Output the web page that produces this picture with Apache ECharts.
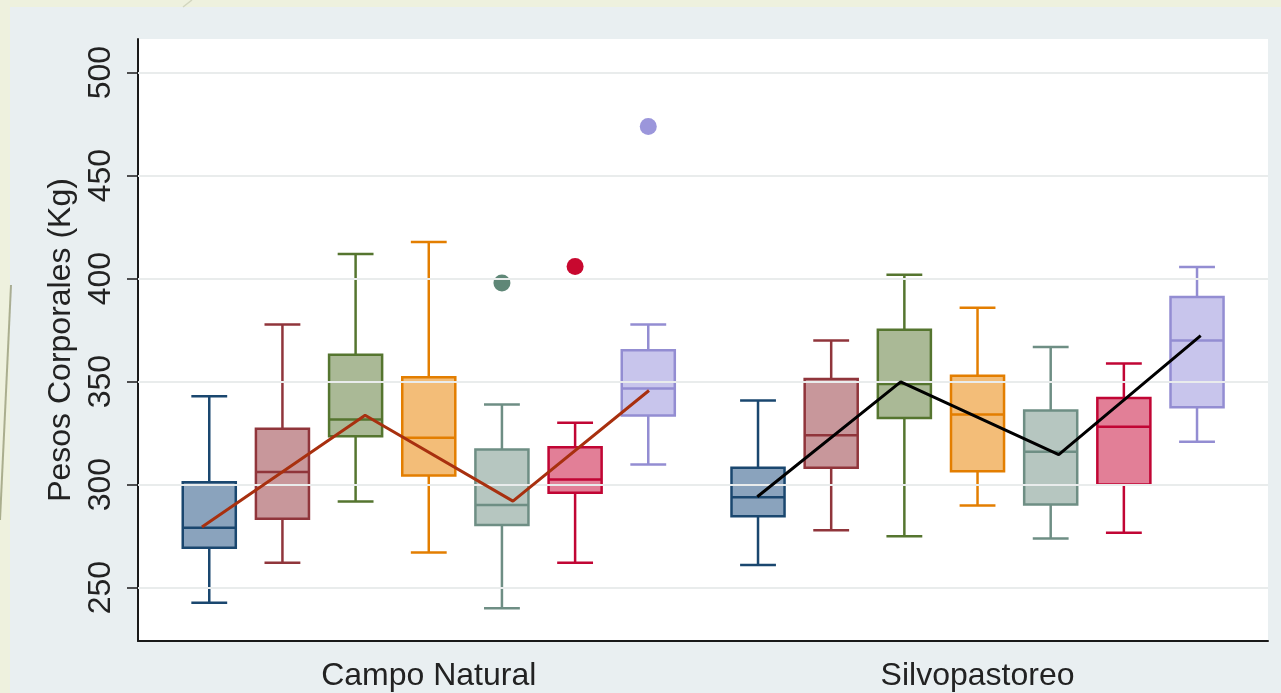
<!DOCTYPE html>
<html>
<head>
<meta charset="utf-8">
<script src="https://cdn.jsdelivr.net/npm/echarts@6/dist/echarts.min.js"></script>
<style>html,body{margin:0;padding:0;background:#eef1de;}#c{width:1281px;height:693px;}</style>
</head>
<body>
<div id="c"></div>
<script>
// ---- data ----
const groups = ['Campo Natural', 'Silvopastoreo'];
const yTicks = [250, 300, 350, 400, 450, 500];

// Campo Natural: 7 boxes
const cnMin = [242.7, 262.1, 291.8, 267.0, 240.0, 262.1, 309.8];
const cnQ1  = [269.4, 283.4, 323.5, 304.4, 280.4, 296.1, 333.5];
const cnMed = [279.1, 306.1, 331.6, 322.7, 290.1, 302.5, 346.6];
const cnQ3  = [301.2, 327.1, 363.1, 352.1, 317.1, 318.2, 365.2];
const cnMax = [342.9, 377.7, 411.9, 417.8, 338.9, 330.0, 377.7];
const cnOutBox = [4, 5, 6];
const cnOutVal = [397.9, 405.9, 473.8];

// Silvopastoreo: 7 boxes
const spMin = [261.0, 277.9, 275.0, 289.9, 273.9, 276.7, 320.8];
const spQ1  = [284.7, 308.2, 332.4, 306.5, 290.4, 300.1, 337.6];
const spMed = [293.9, 324.0, 348.9, 334.0, 315.9, 328.1, 369.9];
const spQ3  = [308.2, 351.3, 375.2, 352.9, 336.0, 342.1, 391.1];
const spMax = [340.8, 369.9, 401.9, 385.8, 366.8, 358.8, 405.6];
const spOutBox = [];
const spOutVal = [];

// trend lines (position in box units within group, value)
const cnLinePos = [-0.1, 2.13, 4.15, 6.01];
const cnLineVal = [279.4, 333.7, 292.0, 345.7];
const spLinePos = [-0.01, 1.95, 4.11, 6.05];
const spLineVal = [294.1, 349.9, 314.6, 372.3];

// ---- styles / layout ----
const GROUP_STEP = 7.5;
const strokeCols = ['#1a476f', '#90353b', '#55752f', '#e37e00', '#6e8e84', '#c10534', '#938dd2'];
const fillCols   = ['#8aa3bd', '#c8979b', '#aab996', '#f3bd78', '#b6c6c0', '#e27f97', '#c8c5ec'];
const outCols    = ['#1a476f', '#90353b', '#55752f', '#e37e00', '#5f8777', '#c8082f', '#9b96db'];
const FONT = 'Liberation Sans, Arial, Helvetica, sans-serif';

const stats = [
  [cnMin, cnQ1, cnMed, cnQ3, cnMax],
  [spMin, spQ1, spMed, spQ3, spMax]
];
const boxData = [];
stats.forEach((s, g) => {
  s[0].forEach((_, k) => {
    boxData.push([g * GROUP_STEP + k, s[0][k], s[1][k], s[2][k], s[3][k], s[4][k], k]);
  });
});
const outData = [];
[[cnOutBox, cnOutVal], [spOutBox, spOutVal]].forEach((o, g) => {
  o[0].forEach((k, i) => {
    outData.push({ value: [g * GROUP_STEP + k, o[1][i]], itemStyle: { color: outCols[k], opacity: 1 } });
  });
});
const cnLine = cnLinePos.map((p, i) => [p, cnLineVal[i]]);
const spLine = spLinePos.map((p, i) => [GROUP_STEP + p, spLineVal[i]]);

const chart = echarts.init(document.getElementById('c'), null, { renderer: 'canvas' });

function renderBox(params, api) {
  const x = api.value(0);
  const k = api.value(6);
  const unit = api.size([1, 0])[0];
  const bw = unit * 0.725;
  const cw = unit * 0.49;
  const cx = api.coord([x, api.value(3)])[0];
  const yMin = api.coord([x, api.value(1)])[1];
  const yQ1 = api.coord([x, api.value(2)])[1];
  const yMed = api.coord([x, api.value(3)])[1];
  const yQ3 = api.coord([x, api.value(4)])[1];
  const yMax = api.coord([x, api.value(5)])[1];
  const st = { stroke: strokeCols[k], lineWidth: 2.5 };
  return {
    type: 'group',
    children: [
      { type: 'line', shape: { x1: cx, y1: yMax, x2: cx, y2: yQ3 }, style: st },
      { type: 'line', shape: { x1: cx, y1: yQ1, x2: cx, y2: yMin }, style: st },
      { type: 'line', shape: { x1: cx - cw / 2, y1: yMax, x2: cx + cw / 2, y2: yMax }, style: st },
      { type: 'line', shape: { x1: cx - cw / 2, y1: yMin, x2: cx + cw / 2, y2: yMin }, style: st },
      { type: 'rect', shape: { x: cx - bw / 2, y: yQ3, width: bw, height: yQ1 - yQ3 },
        style: { fill: fillCols[k], stroke: strokeCols[k], lineWidth: 2.5 } },
      { type: 'line', shape: { x1: cx - bw / 2, y1: yMed, x2: cx + bw / 2, y2: yMed }, style: st }
    ]
  };
}

chart.setOption({
  backgroundColor: '#eef1de',
  animation: false,
  graphic: [
    { type: 'rect', z: -100, shape: { x: 10, y: 7, width: 1271, height: 686 }, style: { fill: '#e9eff1' } },
    { type: 'line', z: -100, shape: { x1: 192, y1: 0, x2: 183, y2: 7 }, style: { stroke: '#d2d6bf', lineWidth: 1.5 } },
    { type: 'line', z: -100, shape: { x1: 11, y1: 285, x2: 0, y2: 520 }, style: { stroke: '#8d916c', lineWidth: 2, opacity: 0.7 } }
  ],
  grid: { left: 138, right: 13, top: 39, bottom: 52, show: true, backgroundColor: '#ffffff', borderWidth: 0 },
  xAxis: {
    type: 'value',
    min: -0.974, max: 14.47,
    axisLine: { show: true, onZero: false, lineStyle: { color: '#1a1a1a', width: 2 } },
    axisTick: { show: false },
    splitLine: { show: false },
    axisLabel: {
      customValues: groups.map((_, g) => g * GROUP_STEP + 3),
      formatter: v => groups[Math.round((v - 3) / GROUP_STEP)],
      fontSize: 32, color: '#222', fontFamily: FONT, margin: 19
    }
  },
  yAxis: {
    type: 'value',
    min: 224.1, max: 516.3,
    name: 'Pesos Corporales (Kg)',
    nameLocation: 'middle',
    nameRotate: 90,
    nameGap: 48,
    nameTextStyle: { fontSize: 32, color: '#222', fontFamily: FONT },
    axisLine: { show: true, onZero: false, lineStyle: { color: '#1a1a1a', width: 2 } },
    axisTick: { show: true, customValues: yTicks, length: 11, lineStyle: { color: '#1a1a1a', width: 1.5 } },
    splitLine: { show: false },
    axisLabel: { customValues: yTicks, rotate: 90, fontSize: 32, color: '#222', fontFamily: FONT, margin: 21 }
  },
  series: [
    {
      type: 'line', data: [], z: 1, silent: true,
      markLine: {
        silent: true, symbol: ['none', 'none'], label: { show: false },
        lineStyle: { color: '#e9ecec', width: 2, type: 'solid' },
        data: yTicks.map(v => ({ yAxis: v }))
      }
    },
    {
      type: 'custom', z: 3,
      renderItem: renderBox,
      encode: { x: 0, y: [1, 2, 3, 4, 5] },
      data: boxData
    },
    {
      type: 'scatter', z: 4, symbolSize: 17, data: outData
    },
    {
      type: 'line', z: 5, data: cnLine, showSymbol: false,
      lineStyle: { color: '#a8300f', width: 3 }
    },
    {
      type: 'line', z: 5, data: spLine, showSymbol: false,
      lineStyle: { color: '#000000', width: 3 }
    }
  ]
});
</script>
</body>
</html>
